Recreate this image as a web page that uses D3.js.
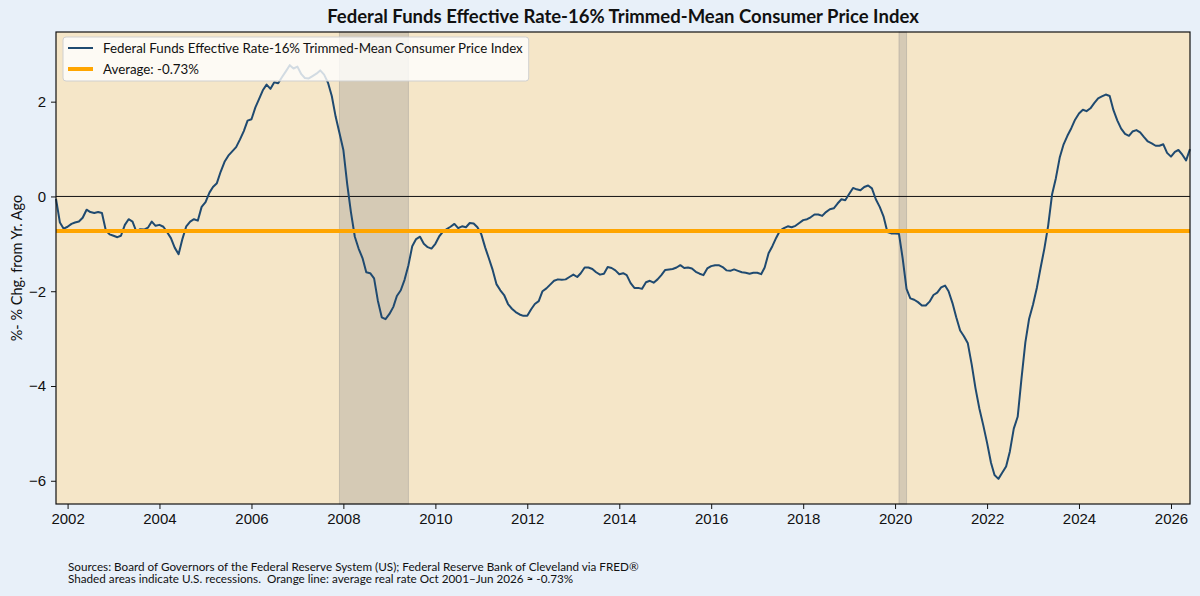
<!DOCTYPE html>
<html>
<head>
<meta charset="utf-8">
<script src="https://cdn.jsdelivr.net/npm/d3@7"></script>
<style>
  body { margin: 0; background: #e8f0f9; }
  svg { display: block; font-family: Lato, "Noto Sans", sans-serif; }
  .tick text { font-size: 15px; fill: #111; }
  .tick line { stroke: #111; }
</style>
</head>
<body>
<div id="chart"></div>
<script>
// --- DATOS ---
const seriesName = "Federal Funds Effective Rate-16% Trimmed-Mean Consumer Price Index";
const avgRate = -0.73;
const startMonth = new Date(2001, 9, 1); // Oct 2001, monthly to Jun 2026

const rate2001 = [-0.05, -0.55, -0.68];
const rate2002 = [-0.64, -0.58, -0.55, -0.53, -0.45, -0.28, -0.33, -0.35, -0.33, -0.35, -0.72, -0.80];
const rate2003 = [-0.83, -0.86, -0.83, -0.60, -0.48, -0.53, -0.74, -0.69, -0.70, -0.66, -0.53, -0.62];
const rate2004 = [-0.60, -0.64, -0.75, -0.88, -1.08, -1.22, -0.90, -0.63, -0.53, -0.48, -0.51, -0.22];
const rate2005 = [-0.12, 0.08, 0.20, 0.28, 0.52, 0.73, 0.86, 0.95, 1.04, 1.20, 1.38, 1.60];
const rate2006 = [1.63, 1.88, 2.05, 2.24, 2.36, 2.27, 2.41, 2.39, 2.52, 2.64, 2.77, 2.70];
const rate2007 = [2.74, 2.58, 2.50, 2.49, 2.54, 2.59, 2.66, 2.57, 2.40, 2.12, 1.68, 1.34];
const rate2008 = [0.98, 0.25, -0.33, -0.85, -1.10, -1.30, -1.60, -1.62, -1.73, -2.20, -2.55, -2.59];
const rate2009 = [-2.48, -2.33, -2.10, -1.98, -1.76, -1.45, -1.05, -0.90, -0.85, -1.00, -1.07, -1.10];
const rate2010 = [-1.00, -0.84, -0.75, -0.69, -0.64, -0.58, -0.67, -0.63, -0.65, -0.56, -0.57, -0.65];
const rate2011 = [-0.80, -1.08, -1.30, -1.55, -1.85, -1.98, -2.08, -2.27, -2.37, -2.44, -2.49, -2.52];
const rate2012 = [-2.52, -2.38, -2.27, -2.21, -2.00, -1.94, -1.86, -1.78, -1.75, -1.76, -1.75, -1.70];
const rate2013 = [-1.65, -1.70, -1.62, -1.50, -1.50, -1.53, -1.60, -1.65, -1.63, -1.49, -1.51, -1.56];
const rate2014 = [-1.64, -1.62, -1.66, -1.83, -1.93, -1.93, -1.95, -1.81, -1.78, -1.82, -1.75, -1.66];
const rate2015 = [-1.55, -1.54, -1.53, -1.50, -1.45, -1.51, -1.50, -1.52, -1.59, -1.63, -1.66, -1.52];
const rate2016 = [-1.47, -1.45, -1.45, -1.49, -1.56, -1.57, -1.54, -1.57, -1.60, -1.61, -1.63, -1.61];
const rate2017 = [-1.61, -1.64, -1.50, -1.20, -1.05, -0.87, -0.72, -0.67, -0.63, -0.65, -0.62, -0.56];
const rate2018 = [-0.50, -0.48, -0.44, -0.38, -0.38, -0.41, -0.33, -0.27, -0.25, -0.15, -0.06, -0.08];
const rate2019 = [0.05, 0.18, 0.15, 0.13, 0.20, 0.23, 0.17, -0.06, -0.22, -0.42, -0.75, -0.78];
const rate2020 = [-0.78, -0.79, -1.30, -1.95, -2.15, -2.18, -2.23, -2.30, -2.30, -2.22, -2.08, -2.03];
const rate2021 = [-1.92, -1.88, -2.00, -2.25, -2.55, -2.83, -2.95, -3.10, -3.55, -4.05, -4.48, -4.82];
const rate2022 = [-5.20, -5.62, -5.88, -5.96, -5.83, -5.70, -5.38, -4.90, -4.65, -3.85, -3.08, -2.58];
const rate2023 = [-2.28, -1.92, -1.52, -1.10, -0.62, 0.04, 0.38, 0.82, 1.10, 1.28, 1.44, 1.62];
const rate2024 = [1.75, 1.83, 1.80, 1.86, 1.97, 2.07, 2.11, 2.15, 2.12, 1.82, 1.60, 1.43];
const rate2025 = [1.32, 1.28, 1.37, 1.40, 1.35, 1.25, 1.16, 1.12, 1.07, 1.07, 1.10, 0.92];
const rate2026 = [0.84, 0.94, 0.98, 0.88, 0.76, 1.00];

const recessions = [
    { start: new Date(2007, 11, 1), end: new Date(2009, 5, 1) },
    { start: new Date(2020, 1, 1), end: new Date(2020, 3, 1) }
];
const xTickYears = [2002, 2004, 2006, 2008, 2010, 2012, 2014, 2016, 2018, 2020, 2022, 2024, 2026];
const yTicks = [-6, -4, -2, 0, 2];
const sourceLines = [
    "Sources: Board of Governors of the Federal Reserve System (US); Federal Reserve Bank of Cleveland via FRED®",
    "Shaded areas indicate U.S. recessions.  Orange line: average real rate Oct 2001\u2013Jun 2026 \u2248 -0.73%"
];

const values = [].concat(rate2001, rate2002, rate2003, rate2004, rate2005, rate2006, rate2007,
    rate2008, rate2009, rate2010, rate2011, rate2012, rate2013, rate2014, rate2015, rate2016,
    rate2017, rate2018, rate2019, rate2020, rate2021, rate2022, rate2023, rate2024, rate2025, rate2026);
const data = values.map((v, i) => ({ date: d3.timeMonth.offset(startMonth, i), value: v }));

// --- LIENZO ---
const width = 1200, height = 596;
const margin = { top: 32, right: 10, bottom: 92, left: 56 };
const innerW = width - margin.left - margin.right;
const innerH = height - margin.top - margin.bottom;

const svg = d3.select("#chart").append("svg")
    .attr("width", width)
    .attr("height", height);

const x = d3.scaleTime()
    .domain([data[0].date, data[data.length - 1].date])
    .range([margin.left, margin.left + innerW]);

const y = d3.scaleLinear()
    .domain([-6.49, 3.47])
    .range([margin.top + innerH, margin.top]);

// fondo del area
svg.append("rect")
    .attr("x", margin.left).attr("y", margin.top)
    .attr("width", innerW).attr("height", innerH)
    .attr("fill", "#f5e6c8");

const plot = svg.append("g");

// recesiones
plot.selectAll("rect.rec")
    .data(recessions)
    .enter().append("rect")
    .attr("class", "rec")
    .attr("x", d => x(d.start))
    .attr("y", margin.top)
    .attr("width", d => x(d.end) - x(d.start))
    .attr("height", innerH)
    .attr("fill", "#8c8c8c")
    .attr("fill-opacity", 0.3)
    .attr("stroke", "#8c8c8c")
    .attr("stroke-opacity", 0.35);

// linea cero
plot.append("line")
    .attr("x1", margin.left).attr("x2", margin.left + innerW)
    .attr("y1", y(0)).attr("y2", y(0))
    .attr("stroke", "#111")
    .attr("stroke-width", 1);

// serie
const line = d3.line()
    .x(d => x(d.date))
    .y(d => y(d.value));

plot.append("path")
    .datum(data)
    .attr("fill", "none")
    .attr("stroke", "#1f4a70")
    .attr("stroke-width", 2)
    .attr("stroke-linejoin", "round")
    .attr("d", line);

// promedio
plot.append("line")
    .attr("x1", margin.left).attr("x2", margin.left + innerW)
    .attr("y1", y(avgRate)).attr("y2", y(avgRate))
    .attr("stroke", "#ffa500")
    .attr("stroke-width", 4);

// ejes
const xAxis = d3.axisBottom(x)
    .tickValues(xTickYears.map(yr => new Date(yr, 0, 1)))
    .tickFormat(d3.timeFormat("%Y"))
    .tickSize(5).tickSizeOuter(0).tickPadding(4);

svg.append("g")
    .attr("transform", `translate(0,${margin.top + innerH})`)
    .call(xAxis)
    .call(g => g.select(".domain").remove());

const yAxis = d3.axisLeft(y)
    .tickValues(yTicks)
    .tickFormat(d3.format("d"))
    .tickSize(5).tickSizeOuter(0).tickPadding(5);

svg.append("g")
    .attr("transform", `translate(${margin.left},0)`)
    .call(yAxis)
    .call(g => g.select(".domain").remove());

// marco
svg.append("rect")
    .attr("x", margin.left).attr("y", margin.top)
    .attr("width", innerW).attr("height", innerH)
    .attr("fill", "none")
    .attr("stroke", "#111")
    .attr("stroke-width", 1.2);

// titulo y etiquetas
svg.append("text")
    .attr("x", margin.left + innerW / 2)
    .attr("y", 23)
    .attr("text-anchor", "middle")
    .attr("font-size", 18.5)
    .attr("font-weight", "bold")
    .attr("fill", "#111")
    .text(seriesName);

svg.append("text")
    .attr("transform", `translate(22,${margin.top + innerH / 2}) rotate(-90)`)
    .attr("text-anchor", "middle")
    .attr("font-size", 14.5)
    .attr("fill", "#111")
    .text("%- % Chg. from Yr. Ago");

svg.append("g").selectAll("text")
    .data(sourceLines)
    .enter().append("text")
    .attr("x", 68)
    .attr("y", (d, i) => 570.5 + i * 12.5)
    .attr("font-size", 11.7)
    .attr("fill", "#111")
    .style("white-space", "pre")
    .text(d => d);

// leyenda
const legendItems = [
    { label: seriesName, color: "#1f4a70", width: 2 },
    { label: `Average: ${avgRate.toFixed(2)}%`, color: "#ffa500", width: 4 }
];
const legend = svg.append("g").attr("transform", "translate(63,37)");
const legendBox = legend.append("rect")
    .attr("rx", 3)
    .attr("fill", "#fff")
    .attr("fill-opacity", 0.8)
    .attr("stroke", "#d0d0d0");

const item = legend.selectAll("g.item")
    .data(legendItems)
    .enter().append("g")
    .attr("class", "item")
    .attr("transform", (d, i) => `translate(0,${11 + i * 21})`);

item.append("line")
    .attr("x1", 5).attr("x2", 30)
    .attr("stroke", d => d.color)
    .attr("stroke-width", d => d.width);

item.append("text")
    .attr("x", 40)
    .attr("dy", "0.35em")
    .attr("font-size", 13.3)
    .attr("fill", "#111")
    .text(d => d.label);

let maxW = 0;
item.select("text").each(function () { maxW = Math.max(maxW, this.getComputedTextLength()); });
legendBox.attr("width", 40 + maxW + 6).attr("height", 44);
</script>
</body>
</html>
